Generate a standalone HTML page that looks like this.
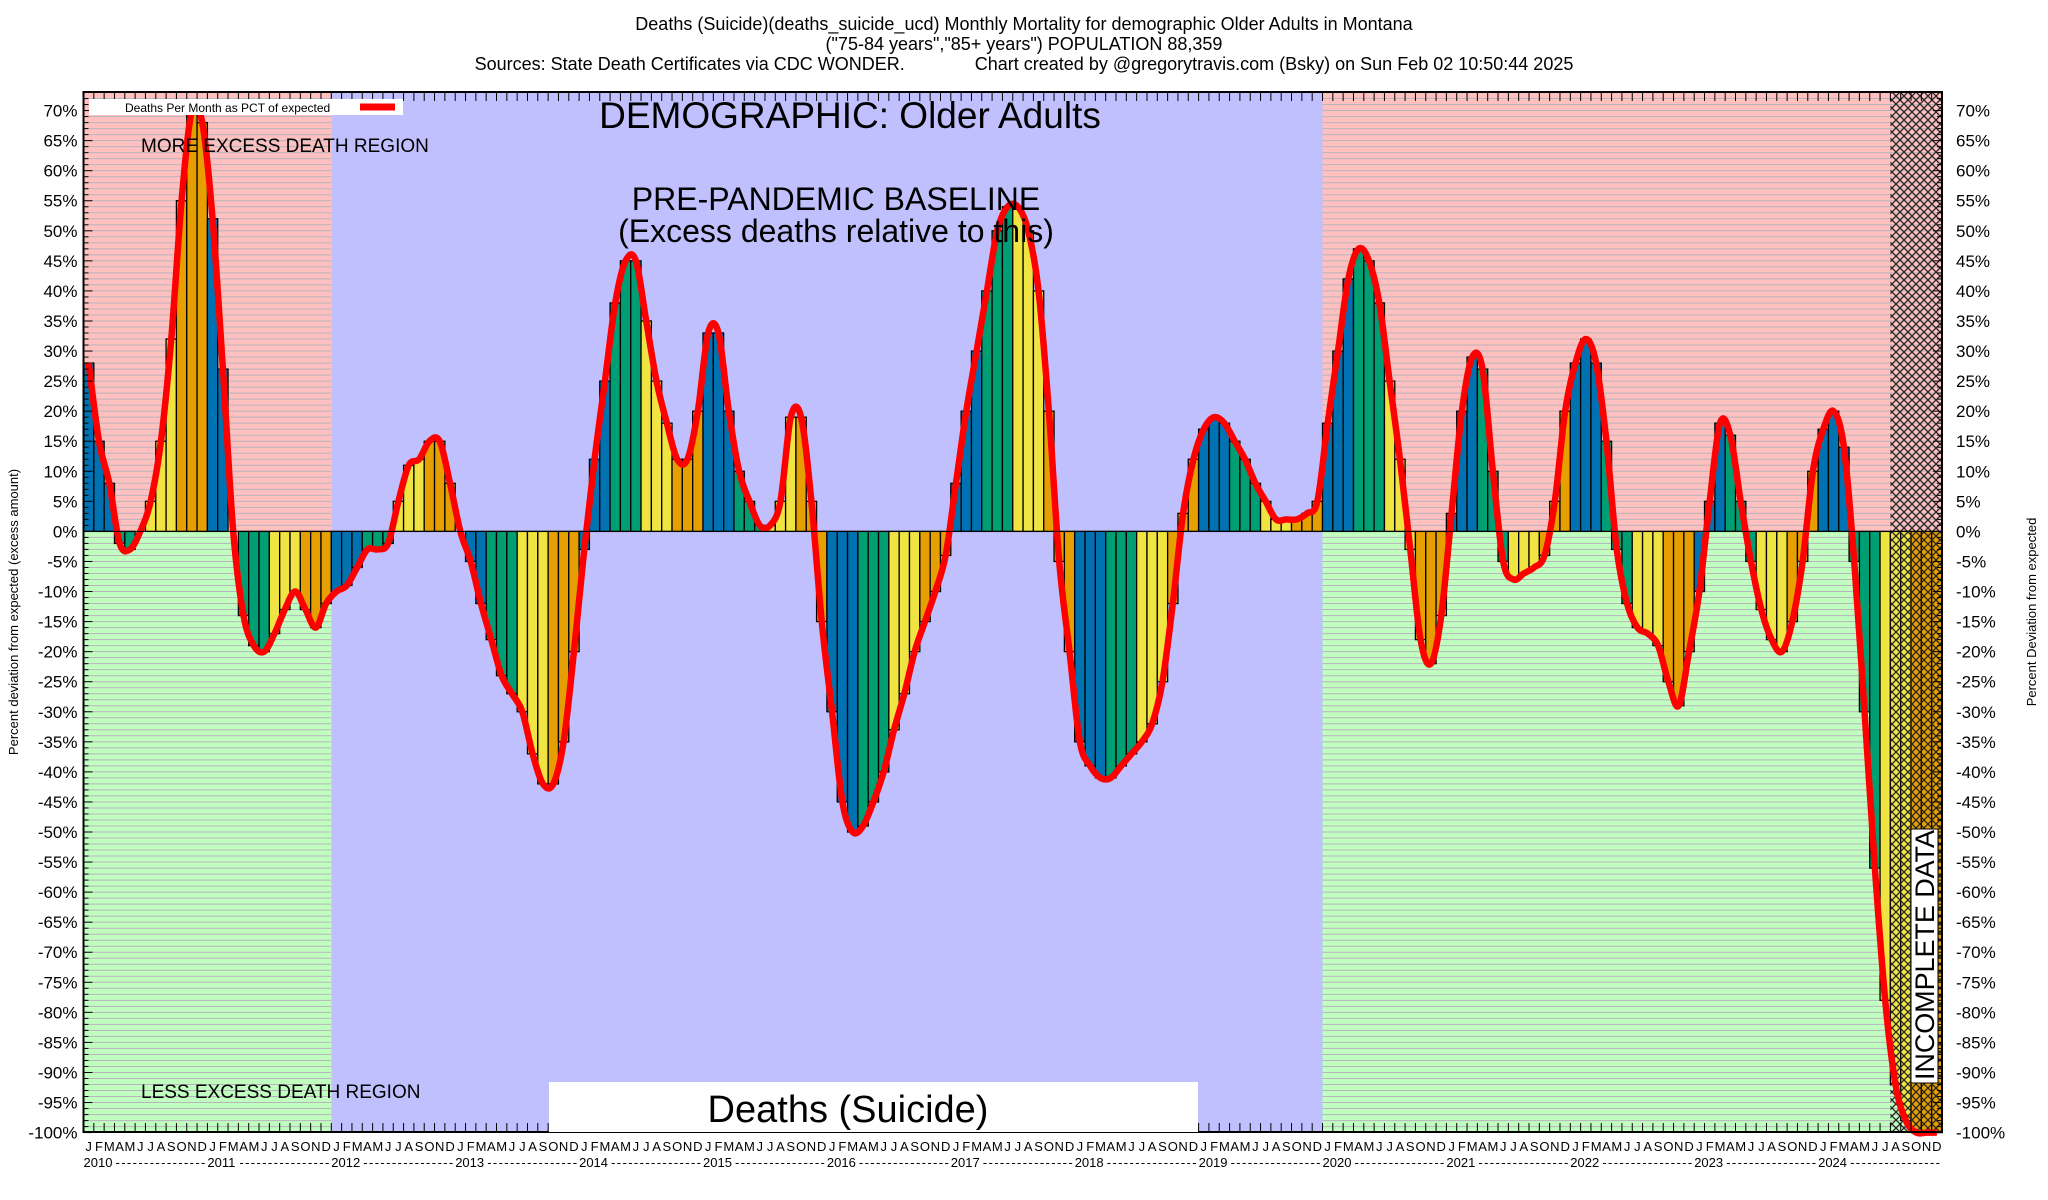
<!DOCTYPE html>
<html><head><meta charset="utf-8"><style>
body{margin:0;background:#fff}
svg{display:block;font-family:"Liberation Sans",sans-serif}
</style></head><body>
<svg id="chart" width="2048" height="1200" viewBox="0 0 2048 1200">
<defs>
<pattern id="hatch" width="8" height="8" patternUnits="userSpaceOnUse">
<path d="M0,0L8,8M8,0L0,8" stroke="#222" stroke-width="1.3"/>
</pattern>
</defs>
<g id="bg"></g>
<g id="bars"></g>
<g id="hatchg"></g>
<g id="line"></g>
<g id="axes"></g>
<g id="texts">
<text x="1024" y="30" font-size="18" text-anchor="middle">Deaths (Suicide)(deaths_suicide_ucd) Monthly Mortality for demographic Older Adults in Montana</text>
<text x="1024" y="50" font-size="18" text-anchor="middle">("75-84 years","85+ years") POPULATION 88,359</text>
<text x="1024" y="70" font-size="18" text-anchor="middle" xml:space="preserve">Sources: State Death Certificates via CDC WONDER.              Chart created by @gregorytravis.com (Bsky) on Sun Feb 02 10:50:44 2025</text>
<text x="850" y="128" font-size="37" text-anchor="middle">DEMOGRAPHIC: Older Adults</text>
<text x="141" y="152" font-size="19">MORE EXCESS DEATH REGION</text>
<text x="141" y="1098" font-size="19">LESS EXCESS DEATH REGION</text>
<text x="836" y="210" font-size="32" text-anchor="middle">PRE-PANDEMIC BASELINE</text>
<text x="836" y="242" font-size="32" text-anchor="middle">(Excess deaths relative to this)</text>
<rect x="549" y="1082" width="649" height="50" fill="#fff"/>
<text x="848" y="1122" font-size="38" text-anchor="middle">Deaths (Suicide)</text>
<rect x="1911" y="829" width="27" height="254" fill="#fff" stroke="#000" stroke-width="1"/>
<text transform="translate(1934,1080) rotate(-90)" font-size="27" textLength="250">INCOMPLETE DATA</text>
<rect x="89" y="99" width="314" height="16" fill="#fff"/>
<text x="125" y="112" font-size="12">Deaths Per Month as PCT of expected</text>
<line x1="360" y1="107" x2="395" y2="107" stroke="#f00" stroke-width="7"/>
<text transform="translate(18,612) rotate(-90)" font-size="13" text-anchor="middle">Percent deviation from expected (excess amount)</text>
<text transform="translate(2036,612) rotate(-90)" font-size="13" text-anchor="middle">Percent Deviation from expected</text>
</g>
</svg>
<script>
const years=[2010,2011,2012,2013,2014,2015,2016,2017,2018,2019,2020,2021,2022,2023,2024];
const monthLetters=["J","F","M","A","M","J","J","A","S","O","N","D"];
const values=[
28,15,8,-2,-3,0,5,15,32,55,70,68,
52,27,0,-14,-19,-20,-17,-13,-10,-13,-16,-12,
-10,-9,-6,-3,-3,-2,5,11,12,15,15,8,
0,-5,-12,-18,-24,-27,-30,-37,-42,-42,-35,-20,
-3,12,25,38,45,45,35,25,18,12,12,20,
33,33,20,10,5,1,1,5,19,19,5,-15,
-30,-45,-50,-49,-45,-40,-33,-27,-20,-15,-10,-4,
8,20,30,40,50,54,54,50,40,20,-5,-20,
-35,-39,-41,-41,-39,-37,-35,-32,-25,-12,3,12,
17,19,18,15,12,8,5,2,2,2,3,5,
18,30,42,47,45,38,25,12,-3,-18,-22,-14,
3,20,29,27,10,-5,-8,-7,-6,-4,5,20,
28,32,28,15,-3,-12,-16,-17,-19,-25,-29,-20,
-10,5,18,16,5,-5,-13,-18,-20,-15,-5,10,
17,20,14,-5,-30,-56,-78,-92,-98,-100,-100,-100];
const yTicks=[70,65,60,55,50,45,40,35,30,25,20,15,10,5,0,-5,-10,-15,-20,-25,-30,-35,-40,-45,-50,-55,-60,-65,-70,-75,-80,-85,-90,-95,-100];
const L=83.5,R=1942,T=92,B=1132,N=180,MW=(R-L)/N;
const xOf=i=>L+i*MW;
const yOf=v=>531.4-v*6.012;
const NS="http://www.w3.org/2000/svg";
function mk(tag,attrs,parent){const e=document.createElementNS(NS,tag);for(const k in attrs)e.setAttribute(k,attrs[k]);parent.appendChild(e);return e;}
const bg=document.getElementById('bg'),bars=document.getElementById('bars'),axes=document.getElementById('axes');
const y0=yOf(0);
const regs=[[0,24],[120,N]];
regs.forEach(([a,b])=>{
 let r=mk('rect',{x:xOf(a),y:T,width:xOf(b)-xOf(a),height:y0-T,fill:'#ffc0c0'},bg);
 
 
 r=mk('rect',{x:xOf(a),y:y0,width:xOf(b)-xOf(a),height:B-y0,fill:'#c0ffc0'},bg);
 
 
 for(let v=72;v>=-99;v--){if(v===0)continue;
  const l=mk('line',{x1:xOf(a),x2:xOf(b),y1:yOf(v),y2:yOf(v),stroke:'#b8b4bc','stroke-width':1},bg);
  
  }
});
let pr=mk('rect',{x:xOf(24),y:T,width:xOf(120)-xOf(24),height:B-T,fill:'#c0c0ff'},bg);


const cols=['#0072b2','#009e73','#f0e442','#e69f00'];
values.forEach((v,i)=>{
 const m=i%12;const y=Math.min(yOf(v),y0),h=Math.abs(yOf(v)-y0);
 const b=mk('rect',{x:xOf(i),y:y,width:MW,height:h,fill:cols[Math.floor(m/3)],stroke:'#000','stroke-width':1.3},bars);
 
 
});
const hx=xOf(175);
const hr=mk('rect',{x:hx,y:T,width:R-hx,height:B-T,fill:'url(#hatch)'},document.getElementById('hatchg'));


const pts=values.map((v,i)=>[xOf(i)+MW/2,yOf(v)]);
let d='M'+pts[0][0]+','+pts[0][1];
for(let i=0;i<pts.length-1;i++){
 const p0=pts[Math.max(0,i-1)],p1=pts[i],p2=pts[i+1],p3=pts[Math.min(pts.length-1,i+2)];
 const c1=[p1[0]+(p2[0]-p0[0])/6,p1[1]+(p2[1]-p0[1])/6],c2=[p2[0]-(p3[0]-p1[0])/6,p2[1]-(p3[1]-p1[1])/6];
 d+=' C'+c1+' '+c2+' '+p2;
}
const ln=mk('path',{d:d,fill:'none',stroke:'#f00','stroke-width':6.5,'stroke-linejoin':'round'},document.getElementById('line'));


const fr=mk('rect',{x:L,y:T,width:R-L,height:B-T,fill:'none',stroke:'#000','stroke-width':2},axes);


const zl=mk('line',{x1:L,x2:R,y1:y0,y2:y0,stroke:'#000','stroke-width':1},axes);


for(let v=-100;v<=72;v++){
 const len=v%5===0?9:5;
 mk('line',{x1:L,x2:L+len,y1:yOf(v),y2:yOf(v),stroke:'#000','stroke-width':1},axes);
 mk('line',{x1:R,x2:R-len,y1:yOf(v),y2:yOf(v),stroke:'#000','stroke-width':1},axes);
}
yTicks.forEach(v=>{
 const t=mk('text',{x:L-6,y:yOf(v)+6,'font-size':17,'text-anchor':'end'},axes);
 t.textContent=v+'%';
 
 
 const t2=mk('text',{x:R+14,y:yOf(v)+6,'font-size':17},axes);
 t2.textContent=v+'%';
 
 
});
for(let i=0;i<=N;i++){
 mk('line',{x1:xOf(i),x2:xOf(i),y1:B,y2:B-9,stroke:'#000','stroke-width':1},axes);
 mk('line',{x1:xOf(i),x2:xOf(i),y1:T,y2:T+9,stroke:'#000','stroke-width':1},axes);
}
for(let i=0;i<N;i++){
 const t=mk('text',{x:xOf(i)+MW/2,y:1151,'font-size':13,'text-anchor':'middle'},axes);
 t.textContent=monthLetters[i%12];
 
 
}
years.forEach((yr,k)=>{
 const x=xOf(k*12);
 const t=mk('text',{x:x,y:1167,'font-size':13},axes);
 t.textContent=yr;
 
 
 const dsh=mk('text',{x:x+32,y:1167,'font-size':13,textLength:12*MW-34,lengthAdjust:'spacing'},axes);
 dsh.textContent='----------------';
 
 
});
</script>
</body></html>
